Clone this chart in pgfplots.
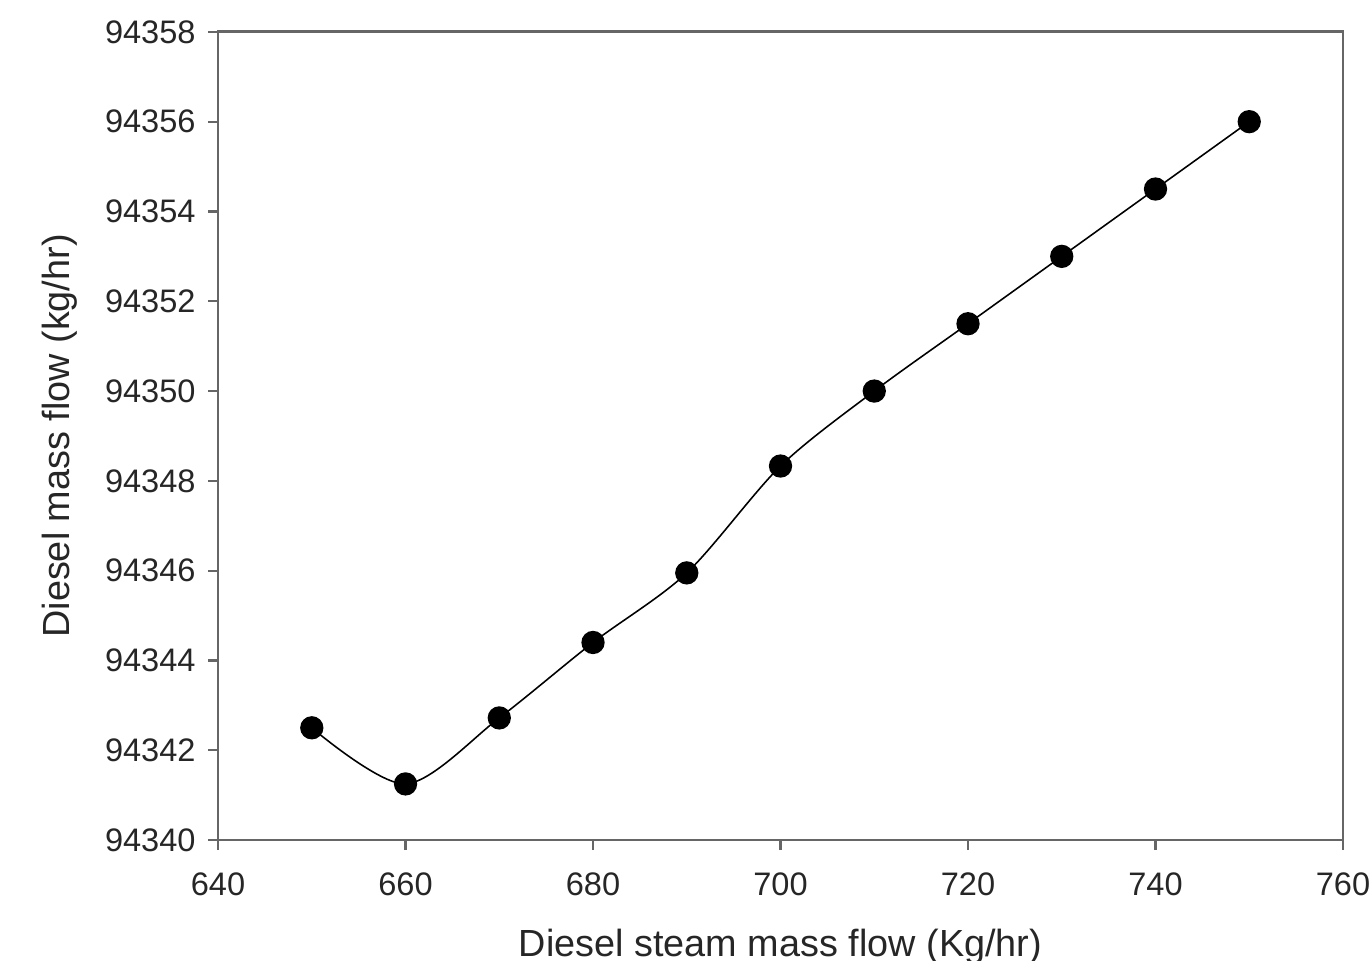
\documentclass[border=0pt]{standalone}
\usepackage{fontspec}
\setmainfont{Liberation Sans}
\usepackage{pgfplots}
\pgfplotsset{compat=1.18}
\begin{document}
\begin{tikzpicture}
\begin{axis}[
    scale only axis,
    width=321.4pt, height=230.9pt,
    xmin=640, xmax=760,
    ymin=94340, ymax=94358,
    xtick={640,660,...,760},
    ytick={94340,94342,...,94358},
    scaled ticks=false,
    axis line style={draw=black!60, line width=0.8pt},
    tick style={draw=black!60, line width=0.6pt},
    tick align=outside,
    major tick length=2.9pt,
    xtick pos=bottom, ytick pos=left,
    /pgf/number format/assume math mode=true,
    /pgf/number format/fixed,
    /pgf/number format/precision=0,
    /pgf/number format/1000 sep={},
    ticklabel style={font=\fontsize{9.3}{11}\selectfont, text=black!85},
    label style={font=\fontsize{10.8}{13}\selectfont, text=black!85},
    xticklabel style={yshift=-3pt},
    yticklabel style={xshift=0pt},
    xlabel={Diesel steam mass flow (Kg/hr)},
    ylabel={Diesel mass flow (kg/hr)},
    xlabel style={yshift=-2.5pt},
    ylabel style={yshift=1pt},
]
\addplot[black, line width=0.45pt, smooth, tension=0.5,
    mark=*, mark size=3.1pt, mark options={fill=black}]
    coordinates {
    (650,94342.5)(660,94341.25)(670,94342.72)(680,94344.4)(690,94345.95)
    (700,94348.33)(710,94350.0)(720,94351.5)(730,94353.0)(740,94354.5)(750,94356.0)
    };
\end{axis}
\pgfresetboundingbox
\path[use as bounding box] ([shift={(-62.3pt,-34.3pt)}]current axis.south west)
    rectangle ([shift={(329.4pt,240pt)}]current axis.south west);
\end{tikzpicture}
\end{document}
